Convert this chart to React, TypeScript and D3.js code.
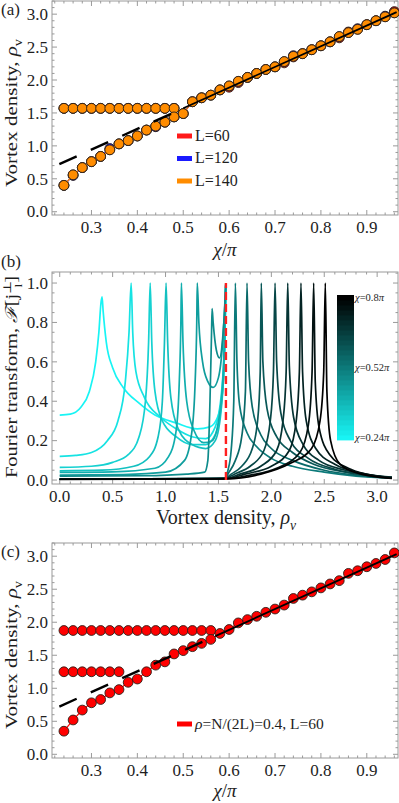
import React, { useEffect, useRef } from 'react';
import * as d3 from 'd3';

// ---------- panel (a): vortex density vs chi/pi for three sizes
const chiGrid = [0.24, 0.26, 0.28, 0.30, 0.32, 0.34, 0.36, 0.38, 0.40, 0.42, 0.44, 0.46, 0.48, 0.50, 0.52, 0.54, 0.56, 0.58, 0.60, 0.62, 0.64, 0.66, 0.68, 0.70, 0.72, 0.74, 0.76, 0.78, 0.80, 0.82, 0.84, 0.86, 0.88, 0.90, 0.92, 0.94, 0.96];
const rhoL60 = [0.40, 0.56, 0.67, 0.76, 0.84, 0.94, 1.03, 1.08, 1.15, 1.24, 1.30, 1.36, 1.44, 1.49, 1.67, 1.73, 1.77, 1.85, 1.89, 1.96, 2.04, 2.10, 2.16, 2.20, 2.26, 2.35, 2.40, 2.46, 2.52, 2.58, 2.64, 2.73, 2.77, 2.84, 2.90, 2.96, 3.04];
const rhoL120 = [0.40, 0.55, 0.67, 0.76, 0.84, 0.96, 1.03, 1.08, 1.15, 1.24, 1.29, 1.36, 1.44, 1.49, 1.67, 1.73, 1.77, 1.85, 1.91, 1.98, 2.04, 2.10, 2.16, 2.20, 2.28, 2.37, 2.40, 2.46, 2.52, 2.58, 2.66, 2.72, 2.78, 2.84, 2.90, 2.97, 3.02];
const rhoL140 = [0.40, 0.56, 0.67, 0.76, 0.84, 0.94, 1.03, 1.08, 1.15, 1.24, 1.30, 1.36, 1.44, 1.49, 1.67, 1.73, 1.77, 1.85, 1.91, 1.98, 2.04, 2.10, 2.16, 2.20, 2.28, 2.36, 2.40, 2.46, 2.52, 2.58, 2.66, 2.72, 2.77, 2.84, 2.90, 2.96, 3.02];
const chiPlateauA = [0.24, 0.26, 0.28, 0.30, 0.32, 0.34, 0.36, 0.38, 0.40, 0.42, 0.44, 0.46, 0.48];
const rhoPlateauA = [1.57, 1.57, 1.57, 1.57, 1.57, 1.57, 1.57, 1.57, 1.57, 1.57, 1.57, 1.57, 1.57];
const sizeLabels = ['L=60', 'L=120', 'L=140'];
// theory line rho = chi, dashed part then solid part (chi/pi ranges)
const refDashA = [0.23, 0.5];
const refSolidA = [0.5, 0.965];

// ---------- panel (b): Fourier transform curves, one per chi
const fourierChi = [0.24, 0.28, 0.32, 0.36, 0.40, 0.44, 0.48, 0.52, 0.56, 0.60, 0.64, 0.68, 0.72, 0.76, 0.80];
const fourierCurves: [number, number][][] = [
  [[0, 0.33], [0.1, 0.335], [0.2, 0.37], [0.28, 0.45], [0.34, 0.6], [0.37, 0.75], [0.39, 0.9], [0.4, 0.93], [0.41, 0.86], [0.44, 0.7], [0.5, 0.57], [0.6, 0.47], [0.75, 0.39], [0.9, 0.33], [1.1, 0.29], [1.3, 0.26], [1.42, 0.27], [1.5, 0.33], [1.54, 0.46], [1.56, 0.7], [1.57, 1.0]],
  [[0, 0.12], [0.15, 0.125], [0.3, 0.14], [0.45, 0.2], [0.55, 0.3], [0.62, 0.5], [0.655, 0.75], [0.675, 1.0], [0.69, 0.75], [0.72, 0.55], [0.8, 0.42], [0.95, 0.32], [1.1, 0.26], [1.25, 0.22], [1.38, 0.21], [1.47, 0.27], [1.53, 0.45], [1.56, 0.75], [1.57, 1.0]],
  [[0, 0.064], [0.3, 0.07], [0.5, 0.09], [0.65, 0.13], [0.75, 0.22], [0.81, 0.4], [0.84, 0.7], [0.855, 1.0], [0.87, 0.7], [0.9, 0.45], [0.97, 0.3], [1.1, 0.22], [1.25, 0.18], [1.38, 0.18], [1.47, 0.23], [1.53, 0.4], [1.56, 0.7], [1.57, 1.0]],
  [[0, 0.047], [0.4, 0.05], [0.7, 0.07], [0.85, 0.12], [0.93, 0.22], [0.97, 0.4], [0.99, 0.7], [1.005, 1.0], [1.02, 0.7], [1.05, 0.42], [1.12, 0.26], [1.25, 0.18], [1.38, 0.16], [1.47, 0.2], [1.53, 0.38], [1.56, 0.7], [1.57, 1.0]],
  [[0, 0.039], [0.5, 0.042], [0.9, 0.06], [1.03, 0.12], [1.1, 0.25], [1.13, 0.5], [1.145, 0.8], [1.15, 1.0], [1.165, 0.7], [1.2, 0.4], [1.27, 0.25], [1.36, 0.19], [1.44, 0.2], [1.51, 0.33], [1.55, 0.6], [1.57, 1.0]],
  [[0, 0.025], [0.6, 0.028], [1.0, 0.04], [1.18, 0.1], [1.25, 0.25], [1.28, 0.5], [1.295, 0.8], [1.3, 1.0], [1.315, 0.8], [1.35, 0.6], [1.4, 0.5], [1.45, 0.47], [1.5, 0.52], [1.54, 0.7], [1.57, 1.0]],
  [[0, 0.02], [0.8, 0.022], [1.2, 0.03], [1.37, 0.04], [1.4, 0.1], [1.42, 0.4], [1.435, 0.75], [1.44, 0.87], [1.45, 0.8], [1.48, 0.66], [1.51, 0.62], [1.54, 0.72], [1.56, 0.88], [1.57, 1.0]],
  [[0, 0.005], [1.4, 0.006], [1.56, 0.01], [1.59, 0.05], [1.62, 0.15], [1.645, 0.4], [1.66, 1.0], [1.675, 0.6], [1.7, 0.38], [1.77, 0.24], [1.86, 0.17], [2.0, 0.11], [2.2, 0.07], [2.5, 0.04], [2.8, 0.02], [3.14, 0.01]],
  [[0, 0.005], [1.56, 0.008], [1.6, 0.04], [1.66, 0.1], [1.72, 0.22], [1.755, 0.45], [1.77, 1.0], [1.785, 0.6], [1.82, 0.37], [1.9, 0.23], [2.0, 0.16], [2.2, 0.1], [2.5, 0.05], [2.8, 0.025], [3.14, 0.01]],
  [[0, 0.005], [1.56, 0.008], [1.62, 0.03], [1.72, 0.07], [1.82, 0.16], [1.87, 0.3], [1.895, 0.55], [1.905, 1.0], [1.92, 0.6], [1.96, 0.36], [2.05, 0.22], [2.2, 0.14], [2.4, 0.08], [2.7, 0.04], [3.14, 0.012]],
  [[0, 0.005], [1.56, 0.008], [1.65, 0.03], [1.8, 0.07], [1.93, 0.15], [1.99, 0.3], [2.02, 0.55], [2.035, 1.0], [2.05, 0.6], [2.09, 0.34], [2.18, 0.2], [2.35, 0.11], [2.6, 0.055], [2.9, 0.025], [3.14, 0.012]],
  [[0, 0.005], [1.57, 0.008], [1.7, 0.03], [1.9, 0.07], [2.05, 0.15], [2.11, 0.3], [2.14, 0.55], [2.155, 1.0], [2.17, 0.58], [2.21, 0.32], [2.3, 0.18], [2.45, 0.1], [2.7, 0.05], [3.14, 0.015]],
  [[0, 0.004], [1.58, 0.008], [1.75, 0.03], [2.0, 0.07], [2.17, 0.15], [2.235, 0.3], [2.265, 0.55], [2.28, 1.0], [2.295, 0.55], [2.33, 0.3], [2.42, 0.16], [2.6, 0.08], [2.85, 0.035], [3.14, 0.012]],
  [[0, 0.004], [1.58, 0.007], [1.8, 0.025], [2.05, 0.06], [2.27, 0.14], [2.35, 0.28], [2.385, 0.55], [2.4, 1.0], [2.415, 0.5], [2.45, 0.27], [2.55, 0.13], [2.75, 0.055], [3.0, 0.02], [3.14, 0.01]],
  [[0, 0.003], [1.58, 0.006], [1.9, 0.03], [2.18, 0.085], [2.38, 0.16], [2.46, 0.3], [2.495, 0.55], [2.51, 1.0], [2.525, 0.45], [2.56, 0.2], [2.65, 0.08], [2.85, 0.03], [3.14, 0.008]],
];
const colorbarChi = [0.24, 0.26, 0.28, 0.30, 0.32, 0.34, 0.36, 0.38, 0.40, 0.42, 0.44, 0.46, 0.48, 0.50, 0.52, 0.54, 0.56, 0.58, 0.60, 0.62, 0.64, 0.66, 0.68, 0.70, 0.72, 0.74, 0.76, 0.78, 0.80];
const colorbarTicks = [0.8, 0.52, 0.24];
const colorbarLabels = ['0.8', '0.52', '0.24'];
const halfPi = [1.5708];

// ---------- panel (c): filling 0.4, L=60
const rhoC = [0.35, 0.52, 0.67, 0.78, 0.83, 0.93, 0.98, 1.09, 1.14, 1.25, 1.35, 1.40, 1.52, 1.57, 1.63, 1.68, 1.74, 1.83, 1.89, 1.99, 2.04, 2.09, 2.15, 2.20, 2.26, 2.36, 2.41, 2.46, 2.52, 2.58, 2.63, 2.74, 2.78, 2.84, 2.89, 2.95, 3.05];
const chiPlateauHighC = [0.24, 0.26, 0.28, 0.30, 0.32, 0.34, 0.36, 0.38, 0.40, 0.42, 0.44, 0.46, 0.48, 0.50, 0.52, 0.54, 0.56];
const rhoPlateauHighC = [1.875, 1.875, 1.875, 1.875, 1.875, 1.875, 1.875, 1.875, 1.875, 1.875, 1.875, 1.875, 1.875, 1.875, 1.875, 1.875, 1.875];
const chiPlateauLowC = [0.24, 0.26, 0.28, 0.30, 0.32, 0.34, 0.36];
const rhoPlateauLowC = [1.25, 1.25, 1.25, 1.25, 1.25, 1.25, 1.25];
const refDashC = [0.23, 0.57];
const refSolidC = [0.57, 0.965];

// ticks
const xTicksChi = [0.3, 0.4, 0.5, 0.6, 0.7, 0.8, 0.9];
const yTicksRho = [0, 0.5, 1.0, 1.5, 2.0, 2.5, 3.0];
const xTicksB = [0, 0.5, 1.0, 1.5, 2.0, 2.5, 3.0];
const yTicksB = [0, 0.2, 0.4, 0.6, 0.8, 1.0];

const FONT = '"Liberation Serif", "DejaVu Serif", serif';
const FRAME = '#9a9a9a';
const INK = '#1e1e1e';
const sizeColors = ['#ff1a1a', '#1a1aff', '#ff8c00'];

type Part = { t: string; it?: boolean; sub?: boolean; sup?: boolean; dx?: number };

// tspans with sub/superscripts; shifts are tracked so the baseline comes back
function mathText(sel: any, parts: Part[], size: number) {
  let cur = 0;
  parts.forEach((p) => {
    const target = p.sub ? 0.28 : p.sup ? -0.38 : 0;
    const ts = sel.append('tspan').text(p.t);
    if (target !== cur) ts.attr('dy', (target - cur) * size);
    cur = target;
    if (p.sub || p.sup) ts.attr('font-size', size * 0.68);
    if (p.it) ts.attr('font-style', 'italic');
    if (p.dx) ts.attr('dx', p.dx);
  });
}

function drawFrame(g: any, x: any, y: any, xTicks: number[], xMinor: number, yTicks: number[], yMinor: number) {
  const [x0, x1] = x.range();
  const [yb, yt] = y.range();
  const fr = g.append('g');
  fr.append('rect')
    .attr('x', x0).attr('y', yt)
    .attr('width', x1 - x0).attr('height', yb - yt)
    .attr('fill', 'none').attr('stroke', FRAME).attr('stroke-width', 1);

  const xd = x.domain();
  const yd = y.domain();
  const xm = d3.range(Math.ceil(xd[0] / xMinor - 1e-6), Math.floor(xd[1] / xMinor + 1e-6) + 1).map((k) => k * xMinor);
  const ym = d3.range(Math.ceil(yd[0] / yMinor - 1e-6), Math.floor(yd[1] / yMinor + 1e-6) + 1).map((k) => k * yMinor);
  const isMajor = (v: number, arr: number[]) => arr.some((a) => Math.abs(a - v) < 1e-6);

  xm.forEach((v) => {
    const len = isMajor(v, xTicks) ? 5 : 2.5;
    const px = x(v);
    fr.append('line').attr('x1', px).attr('x2', px).attr('y1', yb).attr('y2', yb - len).attr('stroke', FRAME);
    fr.append('line').attr('x1', px).attr('x2', px).attr('y1', yt).attr('y2', yt + len).attr('stroke', FRAME);
  });
  ym.forEach((v) => {
    const len = isMajor(v, yTicks) ? 5 : 2.5;
    const py = y(v);
    fr.append('line').attr('x1', x0).attr('x2', x0 + len).attr('y1', py).attr('y2', py).attr('stroke', FRAME);
    fr.append('line').attr('x1', x1).attr('x2', x1 - len).attr('y1', py).attr('y2', py).attr('stroke', FRAME);
  });

  fr.selectAll('.xl').data(xTicks).enter().append('text')
    .attr('x', (d: number) => x(d)).attr('y', yb + 18)
    .attr('text-anchor', 'middle').attr('font-size', 17).attr('fill', INK)
    .text((d: number) => d3.format('.1f')(d));
  fr.selectAll('.yl').data(yTicks).enter().append('text')
    .attr('x', x0 - 4).attr('y', (d: number) => y(d)).attr('dy', '0.34em')
    .attr('text-anchor', 'end').attr('font-size', 17).attr('fill', INK)
    .text((d: number) => d3.format('.1f')(d));
}

function drawRhoPanel(g: any, x: any, y: any, series: { chi: number[]; rho: number[]; color: string }[], refDash: number[], refSolid: number[]) {
  const line = d3.line<[number, number]>().x((d) => x(d[0])).y((d) => y(d[1]));
  series.forEach((s) => {
    const pts = s.chi.map((c, i) => [c, s.rho[i]] as [number, number]);
    g.append('path').attr('d', line(pts)).attr('fill', 'none').attr('stroke', s.color).attr('stroke-width', 1.2);
    g.selectAll(null).data(pts).enter().append('circle')
      .attr('cx', (d: [number, number]) => x(d[0])).attr('cy', (d: [number, number]) => y(d[1]))
      .attr('r', 4.9).attr('fill', s.color).attr('stroke', '#2a2018').attr('stroke-width', 0.9);
  });
  const theory = (r: number[]) => [[r[0], Math.PI * r[0]], [r[1], Math.PI * r[1]]] as [number, number][];
  g.append('path').attr('d', line(theory(refDash))).attr('stroke', '#000').attr('stroke-width', 2.4)
    .attr('stroke-dasharray', '19,15.5').attr('fill', 'none');
  g.append('path').attr('d', line(theory(refSolid))).attr('stroke', '#000').attr('stroke-width', 1.8)
    .attr('fill', 'none');
}

// rotated axis title, squeezed across its glyphs like the exported figure
function drawYTitle(g: any, cx: number, cy: number, parts: Part[], size: number) {
  const t = g.append('text')
    .attr('transform', `translate(${cx},${cy}) scale(0.8,1) rotate(-90)`)
    .attr('text-anchor', 'middle').attr('font-size', size).attr('fill', INK);
  mathText(t, parts, size);
}

const App = () => {
  const svgRef = useRef<SVGSVGElement>(null);

  useEffect(() => {
    const svg = d3.select(svgRef.current);
    svg.selectAll('*').remove();
    svg.attr('font-family', FONT);

    const xA = d3.scaleLinear().domain([0.214, 0.968]).range([52, 398]);
    const yA = d3.scaleLinear().domain([-0.05, 3.2]).range([215, 1]);
    const xB = d3.scaleLinear().domain([-0.073, 3.197]).range([52, 398]);
    const yB = d3.scaleLinear().domain([-0.02, 1.056]).range([484, 272]);
    const xC = d3.scaleLinear().domain([0.214, 0.968]).range([52, 398]);
    const yC = d3.scaleLinear().domain([-0.056, 3.2]).range([758, 543]);

    // ---------------- (a)
    const gA = svg.append('g');
    drawFrame(gA, xA, yA, xTicksChi, 0.02, yTicksRho, 0.1);
    const rhoSets = [rhoL60, rhoL120, rhoL140];
    const seriesA: { chi: number[]; rho: number[]; color: string }[] = [];
    rhoSets.forEach((r, i) => {
      seriesA.push({ chi: chiPlateauA, rho: rhoPlateauA, color: sizeColors[i] });
      seriesA.push({ chi: chiGrid, rho: r, color: sizeColors[i] });
    });
    drawRhoPanel(gA, xA, yA, seriesA, refDashA, refSolidA);

    const legA = gA.append('g');
    sizeLabels.forEach((lab, i) => {
      const ly = 136 + i * 22.5;
      legA.append('line').attr('x1', 177).attr('x2', 192).attr('y1', ly).attr('y2', ly)
        .attr('stroke', sizeColors[i]).attr('stroke-width', 5);
      legA.append('text').attr('x', 195).attr('y', ly).attr('dy', '0.3em')
        .attr('font-size', 16).attr('fill', INK).text(lab);
    });

    svg.append('text').attr('x', 1).attr('y', 15).attr('font-size', 17).attr('fill', INK).text('(a)');
    drawYTitle(svg, 17, 113, [{ t: 'Vortex density, ' }, { t: 'ρ', it: true }, { t: 'v', sub: true }], 21);
    const xtA = svg.append('text').attr('x', 225).attr('y', 256).attr('text-anchor', 'middle').attr('font-size', 19).attr('fill', INK);
    mathText(xtA, [{ t: 'χ', it: true }, { t: '/' }, { t: 'π', it: true }], 19);

    // ---------------- (b)
    const gB = svg.append('g');
    drawFrame(gB, xB, yB, xTicksB, 0.1, yTicksB, 0.05);
    const color = (c: number) => d3.interpolateRgb('#18f4f4', '#000000')((c - 0.24) / 0.56);
    const curve = d3.line<[number, number]>().x((d) => xB(d[0])).y((d) => yB(d[1])).curve(d3.curveMonotoneX);
    fourierCurves.forEach((pts, i) => {
      gB.append('path').attr('d', curve(pts)).attr('fill', 'none')
        .attr('stroke', color(fourierChi[i])).attr('stroke-width', 1.7);
    });
    gB.selectAll('.half').data(halfPi).enter().append('line')
      .attr('x1', (d: number) => xB(d)).attr('x2', (d: number) => xB(d))
      .attr('y1', yB(0)).attr('y2', yB(1.0))
      .attr('stroke', '#ff2020').attr('stroke-width', 2.4).attr('stroke-dasharray', '8,4');

    // colorbar
    const cb = d3.scaleBand<number>().domain([...colorbarChi].reverse()).range([295, 440]);
    const cbg = gB.append('g');
    cbg.selectAll('rect').data(colorbarChi).enter().append('rect')
      .attr('x', 337).attr('width', 17)
      .attr('y', (d: number) => cb(d) as number).attr('height', cb.bandwidth() + 0.4)
      .attr('fill', (d: number) => color(d));
    colorbarTicks.forEach((c, i) => {
      const ty = (cb(c) as number) + cb.bandwidth() / 2;
      const t = cbg.append('text').attr('x', 355).attr('y', ty).attr('dy', '0.35em')
        .attr('font-size', 10.5).attr('fill', INK);
      mathText(t, [{ t: 'χ', it: true }, { t: '=' + colorbarLabels[i] }, { t: 'π', it: true }], 10.5);
    });

    svg.append('text').attr('x', 1).attr('y', 267).attr('font-size', 17).attr('fill', INK).text('(b)');
    drawYTitle(svg, 17, 377, [
      { t: 'Fourier transform, ' }, { t: 'ℱ', it: true }, { t: '[j' },
      { t: '⊥', sup: true }, { t: 'l', sub: true, dx: -7 }, { t: ']', dx: 1 },
    ], 20.5);
    const xtB = svg.append('text').attr('x', 226).attr('y', 524).attr('text-anchor', 'middle').attr('font-size', 20).attr('fill', INK);
    mathText(xtB, [{ t: 'Vortex density, ' }, { t: 'ρ', it: true }, { t: 'v', it: true, sub: true }], 20);

    // ---------------- (c)
    const gC = svg.append('g');
    drawFrame(gC, xC, yC, xTicksChi, 0.02, yTicksRho, 0.1);
    drawRhoPanel(gC, xC, yC, [
      { chi: chiPlateauHighC, rho: rhoPlateauHighC, color: '#ff0000' },
      { chi: chiPlateauLowC, rho: rhoPlateauLowC, color: '#ff0000' },
      { chi: chiGrid, rho: rhoC, color: '#ff0000' },
    ], refDashC, refSolidC);
    gC.append('line').attr('x1', 177).attr('x2', 192).attr('y1', 724).attr('y2', 724)
      .attr('stroke', '#ff0000').attr('stroke-width', 5);
    const legC = gC.append('text').attr('x', 195).attr('y', 724).attr('dy', '0.3em').attr('font-size', 15.5).attr('fill', INK);
    mathText(legC, [{ t: 'ρ', it: true }, { t: '=N/(2L)=0.4, L=60' }], 15.5);

    svg.append('text').attr('x', 1).attr('y', 557).attr('font-size', 17).attr('fill', INK).text('(c)');
    drawYTitle(svg, 17, 655, [{ t: 'Vortex density, ' }, { t: 'ρ', it: true }, { t: 'v', sub: true }], 21);
    const xtC = svg.append('text').attr('x', 225).attr('y', 797).attr('text-anchor', 'middle').attr('font-size', 19).attr('fill', INK);
    mathText(xtC, [{ t: 'χ', it: true }, { t: '/' }, { t: 'π', it: true }], 19);
  }, []);

  return (
    <svg
      ref={svgRef}
      width={399}
      height={803}
      style={{ position: 'absolute', left: 0, top: 0, background: '#fff' }}
    />
  );
};

export default App;
